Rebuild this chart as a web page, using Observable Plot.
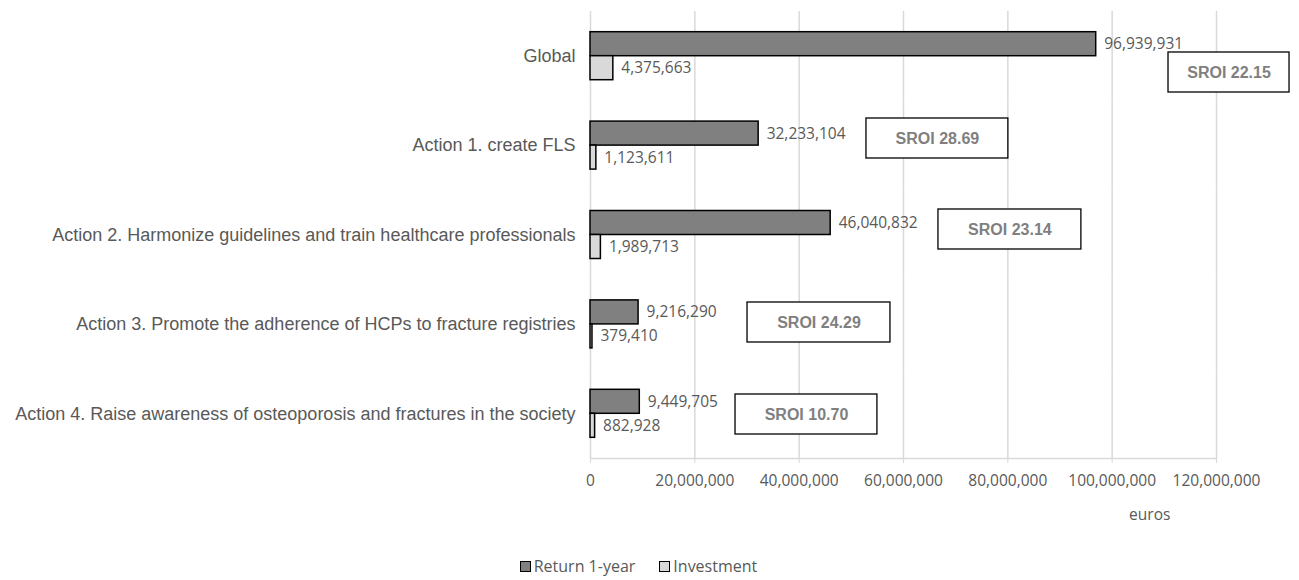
<!DOCTYPE html>
<html>
<head>
<meta charset="utf-8">
<script src="https://cdn.jsdelivr.net/npm/d3@7"></script>
<script src="https://cdn.jsdelivr.net/npm/@observablehq/plot@0.6"></script>
<style>
  html, body { margin: 0; padding: 0; background: #fff; }
  #chart svg { display: block; }
  .legend { height: 40px; box-sizing: border-box; padding-top: 16px; padding-right: 22px;
    display: flex; justify-content: center; align-items: flex-start;
    font-family: "Open Sans", sans-serif; font-size: 16px; color: #595959; line-height: 20px; }
  .legend .item { display: flex; align-items: center; margin: 0 12px; }
  .legend .sw { width: 9px; height: 9px; border: 1.5px solid #000; margin-right: 3px; }
</style>
</head>
<body>
<div id="chart"></div>
<div class="legend">
  <div class="item"><span class="sw" style="background:#808080"></span>Return 1-year</div>
  <div class="item"><span class="sw" style="background:#d9d9d9"></span>Investment</div>
</div>
<script>
// ---- data ----
const categories = [
  "Global",
  "Action 1. create FLS",
  "Action 2. Harmonize guidelines and train healthcare professionals",
  "Action 3. Promote the adherence of HCPs to fracture registries",
  "Action 4. Raise awareness of osteoporosis and fractures in the society"
];
const seriesNames = ["Return 1-year", "Investment"];
const returnValues = [96939931, 32233104, 46040832, 9216290, 9449705];
const investmentValues = [4375663, 1123611, 1989713, 379410, 882928];
const sroiLabels = ["SROI 22.15", "SROI 28.69", "SROI 23.14", "SROI 24.29", "SROI 10.70"];
const xTicks = [0, 20000000, 40000000, 60000000, 80000000, 100000000, 120000000];
const xAxisLabel = "euros";

// ---- annotation layout (text-box placement, in euros / px) ----
const boxX1 = [110.8e6, 52.9e6, 66.7e6, 30.1e6, 27.8e6];
const boxX2 = [134.0e6, 80.1e6, 94.1e6, 57.5e6, 55.0e6];
const boxTop = [41, 17.6, 19.2, 22.8, 25.4];
const boxH = 40;
const facetH = (540 - 11 - 82) / categories.length;

const rows = categories.flatMap((c, i) => [
  {category: c, series: seriesNames[0], value: returnValues[i]},
  {category: c, series: seriesNames[1], value: investmentValues[i]}
]);
const boxes = categories.map((c, i) => ({category: c, label: sroiLabels[i], x1: boxX1[i], x2: boxX2[i], xm: (boxX1[i] + boxX2[i]) / 2, top: boxTop[i]}));

const boxMarks = boxes.flatMap(b => [
  Plot.barX([b], {x1: "x1", x2: "x2", fy: "category", fill: "#fff", stroke: "#000", strokeWidth: 1.3,
    insetTop: b.top, insetBottom: facetH - boxH - b.top}),
  Plot.text([b], {x: "xm", fy: "category", text: "label", frameAnchor: "middle",
    dy: b.top + boxH / 2 - facetH / 2, fontFamily: "Liberation Sans, Arial, sans-serif",
    fontWeight: "bold", fontSize: 16, fill: "#7f7f7f"})
]);

const chart = Plot.plot({
  width: 1299,
  height: 540,
  marginTop: 11,
  marginBottom: 82,
  marginLeft: 590,
  marginRight: 83,
  style: {fontFamily: "Open Sans, sans-serif", fontSize: "15.5px", color: "#595959", background: "#fff", overflow: "visible"},
  x: {domain: [0, 120000000]},
  y: {domain: seriesNames, paddingInner: 0, paddingOuter: 0.8625, round: false, axis: null},
  fy: {domain: categories, padding: 0, round: false},
  color: {domain: seriesNames, range: ["#808080", "#d9d9d9"]},
  marks: [
    Plot.gridX(xTicks, {stroke: "#d9d9d9", strokeOpacity: 1, strokeWidth: 1.5}),
    Plot.frame({anchor: "bottom", facetAnchor: "bottom", stroke: "#d9d9d9", strokeWidth: 1.5}),
    Plot.axisX({ticks: xTicks, tickFormat: d3.format(","), tickSize: 5, tickPadding: 11,
      stroke: "#d9d9d9", fill: "#595959", fontSize: 15.5, label: null}),
    Plot.axisFy({anchor: "left", tickSize: 0, tickPadding: 15, label: null,
      fontFamily: "Liberation Sans, Arial, sans-serif", fontSize: 18, fill: "#595959"}),
    Plot.barX(rows, {x: "value", y: "series", fy: "category", fill: "series", stroke: "#000", strokeWidth: 1.5}),
    Plot.text(rows, {x: "value", y: "series", fy: "category", text: d => d3.format(",")(d.value),
      textAnchor: "start", dx: 8, fill: "#595959", fontSize: 15.5}),
    ...boxMarks,
    Plot.text([{t: xAxisLabel, x: 107.2e6}], {x: "x", text: "t", frameAnchor: "bottom", facetAnchor: "bottom",
      dy: 61, fill: "#595959", fontSize: 15.5})
  ]
});
document.getElementById("chart").appendChild(chart);
</script>
</body>
</html>
